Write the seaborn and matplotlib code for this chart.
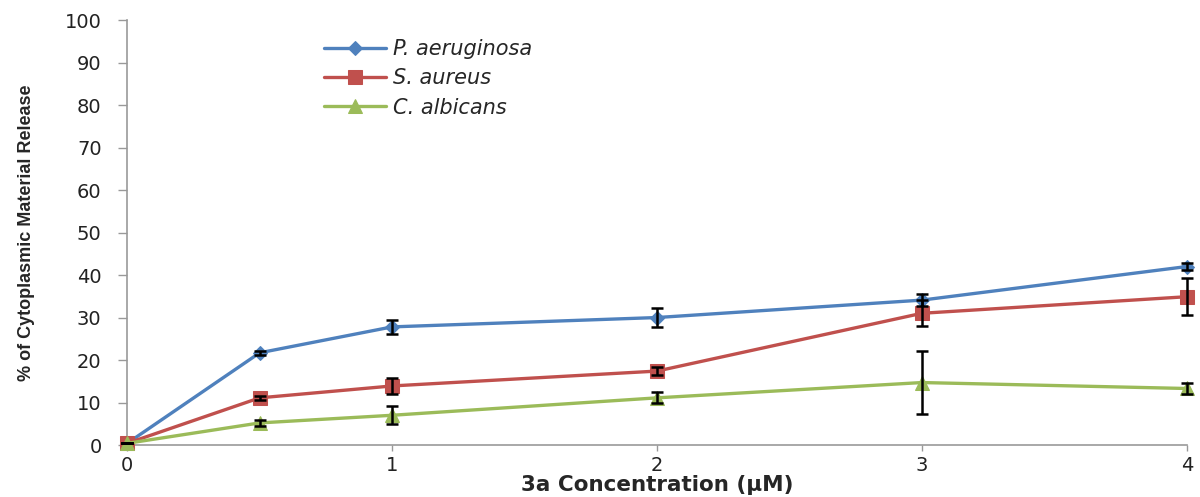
import matplotlib
matplotlib.use("Agg")
import matplotlib.pyplot as plt
import seaborn as sns
import pandas as pd

sns.set_style("white")
plt.rcParams['font.family'] = ['DejaVu Sans']

# data
conc = [0, 0.5, 1, 2, 3, 4]
p_aeruginosa = [0.4, 21.7, 27.8, 30.0, 34.1, 42.0]
p_aeruginosa_err = [0.0, 0.5, 1.6, 2.2, 1.4, 0.8]
s_aureus = [0.4, 11.1, 13.9, 17.4, 31.0, 34.9]
s_aureus_err = [0.0, 0.5, 1.8, 1.0, 3.1, 4.3]
c_albicans = [0.4, 5.2, 7.0, 11.1, 14.7, 13.3]
c_albicans_err = [0.0, 0.8, 2.1, 1.3, 7.4, 1.4]

series = ["P. aeruginosa", "S. aureus", "C. albicans"]
colors = ["#4F81BD", "#C0504D", "#9BBB59"]
markers = ["D", "s", "^"]
sizes = [7, 10, 10]

values = [p_aeruginosa, s_aureus, c_albicans]
errors = [p_aeruginosa_err, s_aureus_err, c_albicans_err]

df = pd.DataFrame({
    "conc": conc * 3,
    "value": p_aeruginosa + s_aureus + c_albicans,
    "series": sum([[s] * len(conc) for s in series], []),
})

fig = plt.figure(figsize=(12, 4.97), dpi=100)
ax = fig.add_axes([0.106, 0.1046, 0.883, 0.855])

for name, col, mk, ms, y, e in zip(series, colors, markers, sizes, values, errors):
    sub = df[df["series"] == name]
    sns.lineplot(data=sub, x="conc", y="value", ax=ax, color=col, marker=mk,
                 markersize=ms, markeredgecolor=col, linewidth=2.4, label=name,
                 clip_on=False, zorder=3)
    ax.errorbar(conc, y, yerr=e, fmt="none", ecolor="black", elinewidth=1.8,
                capsize=4, capthick=1.8, zorder=4, clip_on=False)

ax.set_xlim(0, 4)
ax.set_ylim(0, 100)
ax.set_xticks([0, 1, 2, 3, 4])
ax.set_yticks(range(0, 101, 10))

for side in ["top", "right"]:
    ax.spines[side].set_visible(False)
for side in ["left", "bottom"]:
    ax.spines[side].set_color("#999999")
    ax.spines[side].set_linewidth(1.2)

ax.tick_params(axis="y", direction="out", length=6.5, width=1, color="#999999",
               labelsize=14, labelcolor="#222222", pad=12, left=True)
ax.tick_params(axis="x", direction="out", length=4, width=1, color="#999999",
               labelsize=14, labelcolor="#222222", pad=4, bottom=True)

ax.set_xlabel("3a Concentration (µM)", fontsize=15.5, fontweight="bold", labelpad=0)
ax.set_ylabel("% of Cytoplasmic Material Release", fontsize=13, fontweight="bold",
              family=["Liberation Sans", "DejaVu Sans"])
ax.yaxis.set_label_coords(-0.087, 0.5)

leg = ax.legend(loc="upper left", bbox_to_anchor=(0.168, 1.0), frameon=False,
                handlelength=3.0, handletextpad=0.3, labelspacing=0.45,
                prop={"style": "italic", "size": 15})

fig.savefig("out.png", dpi=100)
